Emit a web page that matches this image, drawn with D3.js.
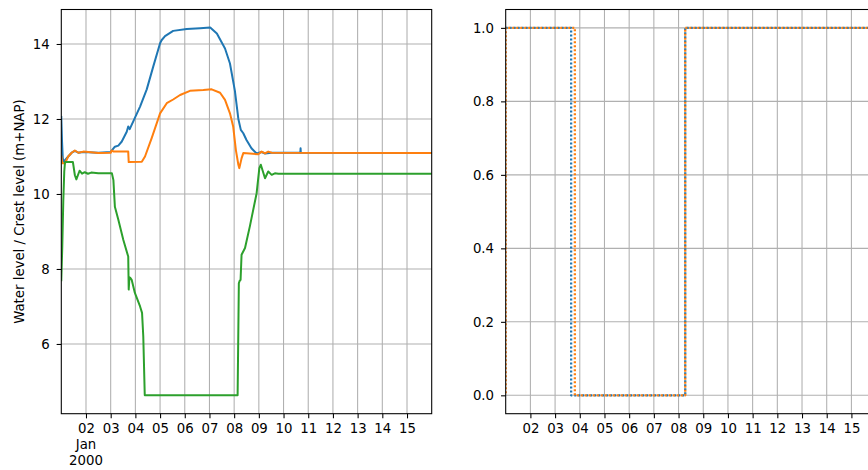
<!DOCTYPE html>
<html><head><meta charset="utf-8">
<script src="https://cdn.jsdelivr.net/npm/d3@7"></script>
<style>body{margin:0;background:#fff}svg{display:block}</style>
</head><body><svg id="c" width="868" height="470"></svg>
<script>
// ---- data (time as days after 2000-01-01 00:00 UTC) ----
const startDate = Date.UTC(2000, 0, 1);
const endDate = Date.UTC(2000, 0, 16);
const dayLabels = ["02","03","04","05","06","07","08","09","10","11","12","13","14","15"];
const leftYTicks = [6, 8, 10, 12, 14];
const rightYTicks = [0, 0.2, 0.4, 0.6, 0.8, 1.0];

const waterLevelA = [[0,12.05],[0.03,11.4],[0.06,10.95],[0.1,10.85],[0.15,10.9],[0.28,11.0],[0.42,11.1],[0.55,11.15],[0.69,11.1],[0.89,11.12],[1.5,11.1],[2.0,11.12],[2.17,11.26],[2.31,11.29],[2.45,11.40],[2.65,11.66],[2.71,11.80],[2.77,11.73],[2.91,11.93],[3.19,12.33],[3.46,12.79],[3.72,13.39],[4.0,14.02],[4.06,14.10],[4.2,14.21],[4.53,14.35],[5.08,14.40],[5.62,14.42],[6.03,14.44],[6.30,14.28],[6.63,13.88],[6.83,13.48],[7.03,12.75],[7.17,12.0],[7.27,11.71],[7.37,11.62],[7.50,11.44],[7.70,11.22],[7.91,11.08],[8.11,11.12],[8.25,11.08],[8.52,11.1],[9.68,11.1],[9.69,11.22],[9.70,11.1],[15,11.09]];
const waterLevelB = [[0,11.0],[0.04,10.82],[0.15,10.82],[0.28,11.0],[0.42,11.1],[0.55,11.16],[0.69,11.1],[0.89,11.13],[1.5,11.09],[2.0,11.10],[2.04,11.16],[2.12,11.13],[2.71,11.13],[2.73,10.85],[3.26,10.86],[3.39,11.0],[3.66,11.49],[4.0,12.15],[4.27,12.42],[4.53,12.52],[4.81,12.64],[5.21,12.75],[5.75,12.77],[6.09,12.79],[6.43,12.70],[6.63,12.51],[6.83,12.15],[6.96,11.80],[7.07,11.17],[7.17,10.78],[7.21,10.69],[7.30,10.95],[7.37,11.09],[7.98,11.06],[8.11,11.13],[8.25,11.08],[8.38,11.13],[8.52,11.10],[15,11.09]];
const crestLevel = [[0,7.7],[0.04,8.6],[0.08,9.8],[0.12,10.6],[0.15,10.85],[0.47,10.85],[0.55,10.5],[0.61,10.39],[0.74,10.62],[0.84,10.54],[0.95,10.58],[1.08,10.54],[1.21,10.57],[1.5,10.55],[2.05,10.55],[2.11,10.37],[2.17,9.66],[2.31,9.31],[2.51,8.78],[2.71,8.33],[2.73,7.45],[2.76,7.78],[2.80,7.76],[2.85,7.71],[2.98,7.36],[3.19,7.00],[3.27,6.83],[3.32,6.20],[3.38,4.63],[7.14,4.63],[7.19,7.62],[7.22,7.68],[7.26,7.71],[7.30,8.38],[7.44,8.56],[7.64,9.15],[7.91,10.02],[8.02,10.69],[8.08,10.78],[8.25,10.42],[8.38,10.60],[8.52,10.51],[8.65,10.55],[8.79,10.54],[15,10.54]];

const gateA = [[0,1],[2.65,1],[2.65,0],[7.27,0],[7.27,1],[15,1]];
const gateB = [[0,0],[0,1],[2.80,1],[2.80,0],[7.27,0],[7.27,1],[15,1]];

// ---- drawing ----
const svg = d3.select("#c");
svg.append("rect").attr("width",868).attr("height",470).attr("fill","#fff");
const FONT = "DejaVu Sans, sans-serif", FS = "13.3px";
const toDate = d => new Date(startDate + d * 864e5);
const C = {blue:"#1f77b4", orange:"#ff7f0e", green:"#2ca02c"};

function panel(id, x0, x1, y0, y1, yDomain, yTicks, yFmt, series, showYear) {
  const x = d3.scaleUtc().domain([new Date(startDate), new Date(endDate)]).range([x0, x1]);
  const y = d3.scaleLinear().domain(yDomain).range([y1, y0]);
  const g = svg.append("g");
  const days = d3.utcDay.range(new Date(Date.UTC(2000,0,2)), new Date(Date.UTC(2000,0,16)));
  // grid
  g.append("g").selectAll("line").data(days).join("line")
    .attr("x1", d => x(d)).attr("x2", d => x(d)).attr("y1", y0).attr("y2", y1)
    .attr("stroke", "#b0b0b0").attr("stroke-width", 1.07);
  g.append("g").selectAll("line").data(yTicks).join("line")
    .attr("x1", x0).attr("x2", x1).attr("y1", d => y(d)).attr("y2", d => y(d))
    .attr("stroke", "#b0b0b0").attr("stroke-width", 1.07);
  // clip
  svg.append("clipPath").attr("id", id).append("rect")
    .attr("x", x0).attr("y", y0).attr("width", x1 - x0).attr("height", y1 - y0);
  const line = d3.line().x(d => x(toDate(d[0]))).y(d => y(d[1]));
  const lg = g.append("g").attr("clip-path", `url(#${id})`);
  series.forEach(s => {
    lg.append("path").attr("d", line(s.data)).attr("fill", "none")
      .attr("stroke", s.color).attr("stroke-width", s.dash ? 2.3 : 2)
      .attr("stroke-linejoin", "round").attr("stroke-linecap", s.dash ? "butt" : "square")
      .attr("stroke-dasharray", s.dash || null).attr("stroke-dashoffset", s.offset || 0);
  });
  // spines
  g.append("rect").attr("x", x0).attr("y", y0).attr("width", x1 - x0).attr("height", y1 - y0)
    .attr("fill", "none").attr("stroke", "#000").attr("stroke-width", 1.07);
  // axes
  const xa = g.append("g").attr("transform", `translate(0,${y1})`)
    .call(d3.axisBottom(x).tickValues(days).tickFormat((d, i) => dayLabels[i]).tickSize(4.67).tickPadding(4.9));
  const ya = g.append("g").attr("transform", `translate(${x0},0)`)
    .call(d3.axisLeft(y).tickValues(yTicks).tickFormat(yFmt).tickSize(4.67).tickPadding(7));
  [xa, ya].forEach(a => {
    a.select(".domain").remove();
    a.selectAll("line").attr("stroke", "#000").attr("stroke-width", 1.07);
    a.selectAll("text").attr("font-family", FONT).attr("font-size", FS).attr("fill", "#000");
  });
  if (showYear) {
    const xc = x(days[0]);
    g.append("text").attr("x", xc).attr("y", 448.7).attr("text-anchor", "middle")
      .attr("font-family", FONT).attr("font-size", FS).text("Jan");
    g.append("text").attr("x", xc).attr("y", 464.7).attr("text-anchor", "middle")
      .attr("font-family", FONT).attr("font-size", FS).text("2000");
  }
}

panel("clipL", 61.3, 431.7, 9.5, 413.7, [4.14, 14.92], leftYTicks, d3.format("d"),
  [{data: waterLevelA, color: C.blue}, {data: waterLevelB, color: C.orange}, {data: crestLevel, color: C.green}], true);

panel("clipR", 505.7, 876.1, 9.5, 413.7, [-0.05, 1.05], rightYTicks, d3.format(".1f"),
  [{data: gateA, color: C.blue, dash: "2,2"}, {data: gateB, color: C.orange, dash: "2,2", offset: 2}], false);

svg.append("text").attr("transform", "translate(23.5,211.6) rotate(-90)")
  .attr("text-anchor", "middle").attr("font-family", FONT).attr("font-size", FS)
  .attr("fill", "#000").text("Water level / Crest level (m+NAP)");
</script></body></html>
